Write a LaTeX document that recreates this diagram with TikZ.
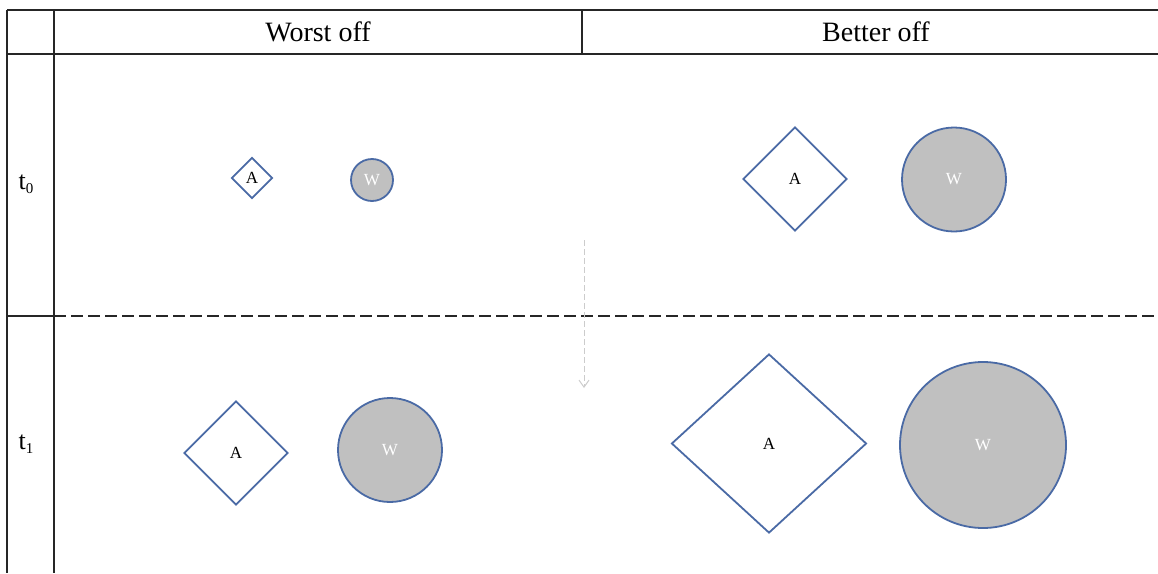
\documentclass[tikz,border=0pt]{standalone}
\usepackage{fontspec}
\setmainfont{Liberation Serif}
\usetikzlibrary{shapes.geometric,arrows.meta}
\definecolor{shapeblue}{HTML}{4A6AA5}
\definecolor{wgrey}{HTML}{C0C0C0}
\definecolor{arrowgrey}{HTML}{CCCCCC}
\tikzset{
  gridline/.style={line width=1.5pt,black!85},
  sepline/.style={line width=1.5pt,black!85,dash pattern=on 12pt off 5pt},
  abox/.style={diamond,draw=shapeblue,line width=1.8pt,fill=white,inner sep=0pt,font=\fontsize{17}{17}\selectfont},
  wcirc/.style={circle,draw=shapeblue,line width=1.8pt,fill=wgrey,inner sep=0pt,text=white,font=\fontsize{17}{17}\selectfont},
  head/.style={font=\fontsize{28}{28}\selectfont},
  rowlab/.style={font=\fontsize{26}{26}\selectfont},
  timearrow/.style={arrowgrey,line width=1pt,dash pattern=on 6pt off 3pt,-{Straight Barb[length=7pt,width=10pt]}}
}
\newcommand{\tsub}[1]{t\raisebox{-0.35ex}{\fontsize{15}{15}\selectfont #1}}
\begin{document}
\begin{tikzpicture}[x=1pt,y=-1pt]
\useasboundingbox (0,0) rectangle (1158,573);
% table lines
\draw[gridline] (7,10) -- (1158,10);
\draw[gridline] (7,54) -- (1158,54);
\draw[gridline] (7,10) -- (7,573);
\draw[gridline] (54,10) -- (54,573);
\draw[gridline] (582,10) -- (582,54);
\draw[gridline] (7,316) -- (54,316);
\draw[sepline] (54,316) -- (1158,316);
% headers
\node[head] (h1) at (318,32) {Worst off};
\node[head] (h2) at (876,32) {Better off};
% row labels
\node[rowlab] (r0) at (26,184) {\tsub{0}};
\node[rowlab] (r1) at (26,444) {\tsub{1}};
% time arrow
\coordinate (ta) at (584,240);
\coordinate (tb) at (584,388);
\draw[timearrow] (ta) -- (tb);
% t0 worst off
\node[abox,minimum width=41pt,minimum height=41pt] (a00) at (252,178) {A};
\node[wcirc,minimum size=42pt] (w00) at (372,180) {W};
% t0 better off
\node[abox,minimum width=104pt,minimum height=104pt] (a01) at (795,179) {A};
\node[wcirc,minimum size=104pt] (w01) at (954,179.5) {W};
% t1 worst off
\node[abox,minimum width=104pt,minimum height=104pt] (a10) at (236,453) {A};
\node[wcirc,minimum size=104pt] (w10) at (390,450) {W};
% t1 better off
\node[abox,shape aspect=1.09,minimum width=195pt,minimum height=179pt] (a11) at (769,443.5) {A};
\node[wcirc,minimum size=166pt] (w11) at (983,445) {W};
\end{tikzpicture}
\end{document}
